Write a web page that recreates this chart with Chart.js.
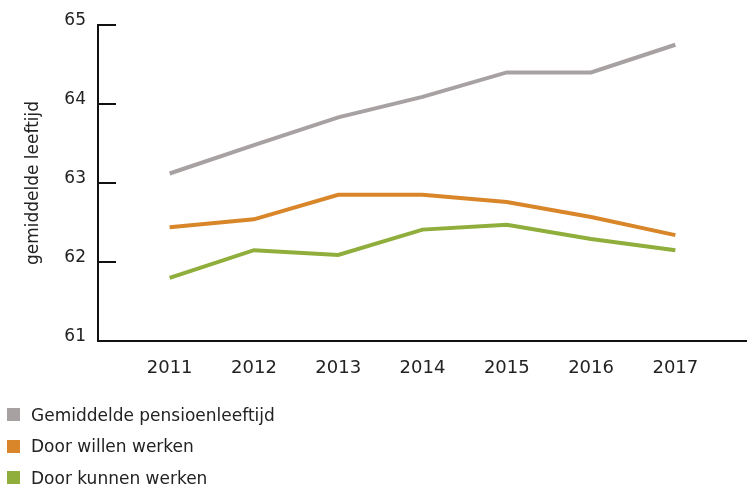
<!DOCTYPE html>
<html>
<head>
<meta charset="utf-8">
<script src="https://cdn.jsdelivr.net/npm/chart.js@4"></script>
<style>
    html, body { margin: 0; padding: 0; background: #fff; }
    #wrap { position: relative; width: 747px; height: 489px; }
    #legend { position: absolute; left: 7px; top: 399px; font-family: 'DejaVu Sans', sans-serif; font-size: 17px; color: #222; }
    .item { display: flex; align-items: center; height: 31.5px; }
    .box { width: 13px; height: 13px; margin-right: 11px; }
</style>
</head>
<body>
<div id="wrap">
    <canvas id="chart" width="747" height="489"></canvas>
    <div id="legend"></div>
</div>
<script>
const years = [2011, 2012, 2013, 2014, 2015, 2016, 2017];
const pensionAge = [63.12, 63.48, 63.83, 64.09, 64.40, 64.40, 64.75];
const wantToWork = [62.44, 62.54, 62.85, 62.85, 62.76, 62.57, 62.34];
const ableToWork = [61.80, 62.15, 62.09, 62.41, 62.47, 62.29, 62.15];
const seriesNames = ['Gemiddelde pensioenleeftijd', 'Door willen werken', 'Door kunnen werken'];
const yTicks = [61, 62, 63, 64, 65];

const COLORS = ['#a7a1a2', '#d9862a', '#8fae3c'];

const toPoints = vals => years.map((yr, i) => ({ x: yr, y: vals[i] }));

// short tick marks pointing into the plot from the y axis
const innerTicks = {
    id: 'innerTicks',
    afterDraw(chart) {
        const { ctx, chartArea, scales } = chart;
        ctx.save();
        ctx.strokeStyle = '#111';
        ctx.lineWidth = 2;
        yTicks.forEach(v => {
            if (v === yTicks[0]) return;
            const y = Math.round(scales.y.getPixelForValue(v));
            ctx.beginPath();
            ctx.moveTo(chartArea.left, y);
            ctx.lineTo(chartArea.left + 18, y);
            ctx.stroke();
        });
        ctx.restore();
    },
};

new Chart(document.getElementById('chart'), {
    type: 'line',
    data: {
        datasets: [pensionAge, wantToWork, ableToWork].map((vals, i) => ({
            label: seriesNames[i],
            data: toPoints(vals),
            borderColor: COLORS[i],
            backgroundColor: COLORS[i],
            borderWidth: 4,
            pointRadius: 0,
            tension: 0,
        })),
    },
    options: {
        responsive: false,
        animation: false,
        layout: { padding: { top: 25, right: 0, bottom: 0, left: 0 } },
        plugins: {
            legend: { display: false },
            tooltip: { enabled: false },
        },
        scales: {
            x: {
                type: 'linear',
                min: 2010.15,
                max: 2017.85,
                border: { color: '#111', width: 2 },
                grid: { display: false, drawTicks: false },
                ticks: {
                    stepSize: 1,
                    includeBounds: false,
                    padding: 17,
                    color: '#222',
                    font: { family: 'DejaVu Sans', size: 18 },
                    callback: v => String(v),
                },
                afterFit: s => { s.height = 148; },
            },
            y: {
                min: 61,
                max: 65,
                border: { color: '#111', width: 2 },
                grid: { display: false, drawTicks: false },
                ticks: {
                    stepSize: 1,
                    padding: 12,
                    labelOffset: -4,
                    color: '#222',
                    font: { family: 'DejaVu Sans', size: 17 },
                },
                title: {
                    display: true,
                    text: 'gemiddelde leeftijd',
                    color: '#222',
                    font: { family: 'DejaVu Sans', size: 17 },
                    padding: { top: 23, bottom: 0 },
                },
                afterFit: s => { s.width = 98; },
            },
        },
    },
    plugins: [innerTicks],
});

const legendEl = document.getElementById('legend');
seriesNames.forEach((name, i) => {
    const row = document.createElement('div');
    row.className = 'item';
    row.innerHTML = `<span class="box" style="background:${COLORS[i]}"></span><span>${name}</span>`;
    legendEl.appendChild(row);
});
</script>
</body>
</html>
